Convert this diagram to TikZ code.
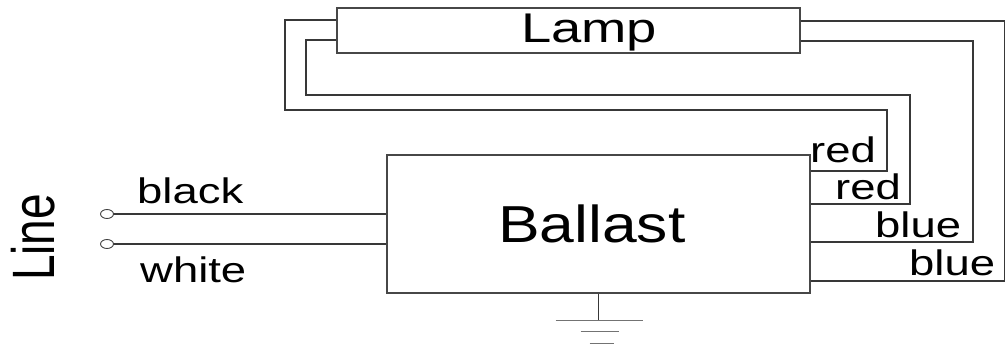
\documentclass[tikz,border=0pt]{standalone}
\usepackage{fontspec}
\setmainfont{Liberation Sans}
\usepackage{graphicx}
\usetikzlibrary{shapes.geometric}
\begin{document}
\begin{tikzpicture}[x=1pt,y=-1pt,
  wire/.style={line width=1.3pt, draw=black!78},
  box/.style={draw=black!72, line width=1.3pt, rectangle, inner sep=0pt},
  lbl/.style={inner sep=0pt, anchor=base west, font=\fontsize{35.5}{35.5}\selectfont},
  term/.style={ellipse, draw=black!75, line width=0.9pt, minimum width=13pt, minimum height=9pt, inner sep=0pt},
  gnd/.style={line width=1.3pt, draw=black!55}]
\useasboundingbox (0,0) rectangle (1006,348);
% boxes
\node[box, minimum width=463pt, minimum height=45pt] (lamp) at (568.5,30.5) {};
\node[box, minimum width=423pt, minimum height=138pt] (ballast) at (598.5,224) {};
% box texts
\node[inner sep=0pt, anchor=base west, font=\fontsize{41.5}{41.5}\selectfont] (tlamp) at (521,42.3) {\scalebox{1.31}[1]{Lamp}};
\node[inner sep=0pt, anchor=base west, font=\fontsize{52}{52}\selectfont] (tballast) at (498,242) {\scalebox{1.2}[1]{Ballast}};
% lamp wires
\draw[wire] (lamp.west |- 0,20) -- (285,20) -- (285,110) -- (887,110) -- (887,171) -- (ballast.east |- 0,171);
\draw[wire] (lamp.west |- 0,40) -- (306,40) -- (306,95) -- (910,95) -- (910,204) -- (ballast.east |- 0,204);
\draw[wire] (lamp.east |- 0,41) -- (973,41) -- (973,242) -- (ballast.east |- 0,242);
\draw[wire] (lamp.east |- 0,21) -- (1004.3,21) -- (1004.3,281) -- (ballast.east |- 0,281);
% wire labels
\node[lbl] (tred1) at (810,162) {\scalebox{1.28}[1]{red}};
\node[lbl] (tred2) at (835,199) {\scalebox{1.28}[1]{red}};
\node[lbl] (tblue1) at (875,237) {\scalebox{1.28}[1]{blue}};
\node[lbl] (tblue2) at (909,275) {\scalebox{1.28}[1]{blue}};
% line inputs
\node[term] (t1) at (107,214) {};
\node[term] (t2) at (107,244) {};
\draw[wire] (t1.east) -- (t1.east -| ballast.west);
\draw[wire] (t2.east) -- (t2.east -| ballast.west);
\node[lbl] (tblack) at (137,203) {\scalebox{1.28}[1]{black}};
\node[lbl] (twhite) at (140,282) {\scalebox{1.28}[1]{white}};
\node[inner sep=0pt, anchor=base west, rotate=90, font=\fontsize{46}{46}\selectfont] (tline) at (54,281) {\scalebox{1}[1.3]{Line}};
% ground
\draw[wire] (ballast.south) -- ++(0,27) coordinate (g);
\draw[gnd] ([xshift=-43pt]g) -- ([xshift=44pt]g);
\draw[gnd] ([xshift=-18pt,yshift=-11pt]g) -- ([xshift=20pt,yshift=-11pt]g);
\draw[gnd] ([xshift=-9pt,yshift=-23pt]g) -- ([xshift=15pt,yshift=-23pt]g);
\end{tikzpicture}
\end{document}
